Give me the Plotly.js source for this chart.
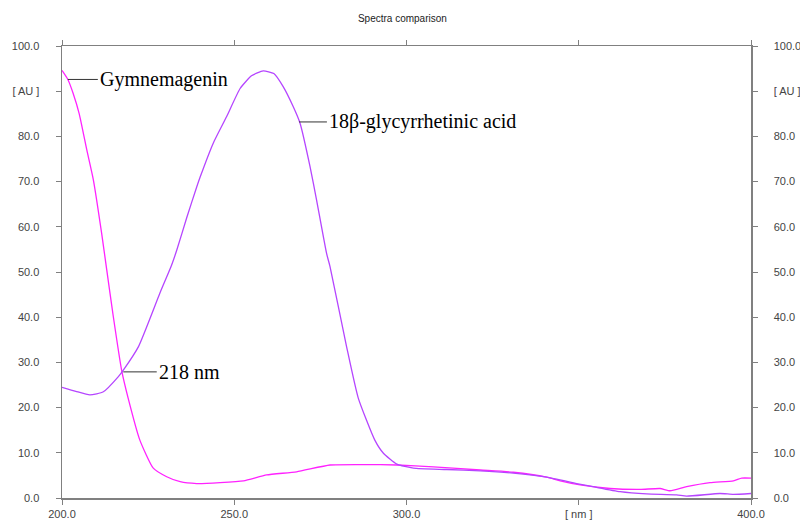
<!DOCTYPE html>
<html>
<head>
<meta charset="utf-8">
<script src="https://cdn.plot.ly/plotly-3.0.1.min.js"></script>
<style>html,body{margin:0;padding:0;background:#fff;}#chart{width:800px;height:521px;}</style>
</head>
<body>
<div id="chart"></div>
<script>
// Gymnemagenin spectrum (nm, AU)
const gymX = [200, 201.7, 203.2, 205, 207.2, 209.1, 211.5, 213.0, 214.9, 217.3, 219.2, 222.6, 226.5, 230.4, 234.3, 239.1, 245.9, 252.7, 259.4, 268.1, 277.8, 287.5, 297.2, 307.8, 321.4, 331.0, 340.7, 344.6, 350.4, 359.1, 367.8, 373.6, 376.5, 381.3, 388.1, 394.9, 397.3, 400];
const gymY = [94.6, 92.6, 89.6, 85.0, 77.0, 70.4, 58.6, 50.4, 40.1, 28.3, 22.1, 12.8, 6.6, 4.7, 3.6, 3.2, 3.4, 3.8, 5.1, 5.8, 7.3, 7.4, 7.3, 6.9, 6.2, 5.7, 4.6, 3.8, 2.9, 2.1, 1.9, 2.1, 1.6, 2.5, 3.4, 3.8, 4.4, 4.4];
// 18β-glycyrrhetinic acid spectrum (nm, AU)
const glyX = [200, 204, 208.1, 212, 216.3, 217.8, 222.2, 228.4, 231.8, 233.3, 236.2, 239.1, 240.1, 243.9, 247.8, 251.7, 255, 258.4, 261.5, 264.2, 267.1, 269.1, 272.0, 273.9, 276.8, 277.8, 282.6, 286.0, 290.8, 293.3, 297.2, 302.0, 311.7, 321.4, 331.0, 340.7, 349.4, 354.2, 362.0, 369.7, 378.4, 381.3, 391.0, 394.9, 400];
const glyY = [24.5, 23.6, 22.8, 23.5, 26.8, 28.3, 33.5, 45.3, 51.5, 54.8, 62.0, 68.8, 71.0, 78.5, 84.4, 90.6, 93.4, 94.5, 93.9, 91.0, 86.6, 82.9, 73.3, 65.9, 54.1, 51.2, 33.5, 22.1, 12.8, 9.9, 7.5, 6.6, 6.3, 6.0, 5.5, 4.6, 3.2, 2.5, 1.4, 0.9, 0.7, 0.4, 1.0, 0.8, 1.0];

const xTickVals = [200, 250, 300, 350, 400];
const xTickText = ['200.0', '250.0', '300.0', '[ nm ]', '400.0'];
const yTickVals = [0, 10, 20, 30, 40, 50, 60, 70, 80, 90, 100];
const yTickText = ['0.0', '10.0', '20.0', '30.0', '40.0', '50.0', '60.0', '70.0', '80.0', '[ AU ]', '100.0'];

// label callouts: [pointX, pointY, lineEndX, textX, text]
const labels = [
  [201.7, 92.6, 210.4, 210.7, 'Gymnemagenin'],
  [268.8, 83.2, 276.9, 277.2, '18β-glycyrrhetinic acid'],
  [217.8, 27.9, 227.5, 227.8, '218 nm']
];

const axisColor = '#808080';
const tickFont = {family: 'Liberation Sans, Arial, sans-serif', size: 11, color: '#444'};

const traces = [
  {x: gymX, y: gymY, type: 'scatter', mode: 'lines', name: 'Gymnemagenin',
   line: {color: '#ff22ff', width: 1.3, shape: 'spline', smoothing: 0.5}, xaxis: 'x', yaxis: 'y'},
  {x: glyX, y: glyY, type: 'scatter', mode: 'lines', name: '18β-glycyrrhetinic acid',
   line: {color: '#b545ff', width: 1.3, shape: 'spline', smoothing: 0.5}, xaxis: 'x', yaxis: 'y2'}
];

const shapes = labels.map(l => ({type: 'line', xref: 'x', yref: 'y', x0: l[0], y0: l[1], x1: l[2], y1: l[1],
  line: {color: '#333', width: 1}}));
const annotations = labels.map(l => ({xref: 'x', yref: 'y', x: l[3], y: l[1], text: l[4], showarrow: false,
  xanchor: 'left', yanchor: 'middle', borderpad: 0,
  font: {family: 'Liberation Serif, Times New Roman, serif', size: 20, color: '#000'}}));

const layout = {
  width: 800, height: 521,
  margin: {l: 62, r: 49, t: 46, b: 23, pad: 0},
  paper_bgcolor: '#fff', plot_bgcolor: '#fff',
  showlegend: false,
  title: {text: 'Spectra comparison', x: 0.503, xanchor: 'center', y: 0.965, yanchor: 'middle',
          font: {family: 'Liberation Sans, Arial, sans-serif', size: 10, color: '#222'}},
  xaxis: {range: [200, 400], tickvals: xTickVals, ticktext: xTickText, ticks: 'outside', ticklen: 5,
          tickcolor: axisColor, tickwidth: 1, showline: true, linecolor: axisColor, linewidth: 1.5,
          mirror: 'ticks', showgrid: false, zeroline: false, tickfont: tickFont, ticklabelstandoff: 0},
  yaxis: {range: [0, 100], tickvals: yTickVals, ticktext: yTickText, ticks: 'outside', ticklen: 5,
          tickcolor: axisColor, tickwidth: 1, showline: true, linecolor: axisColor, linewidth: 1.5,
          showgrid: false, zeroline: false, tickfont: tickFont, ticklabelstandoff: 14},
  yaxis2: {range: [0, 100], overlaying: 'y', side: 'right', tickvals: yTickVals, ticktext: yTickText,
           ticks: 'outside', ticklen: 5, tickcolor: axisColor, tickwidth: 1, showline: true,
           linecolor: axisColor, linewidth: 1.5, showgrid: false, zeroline: false, tickfont: tickFont,
           ticklabelstandoff: 14},
  shapes: shapes,
  annotations: annotations
};

Plotly.newPlot('chart', traces, layout, {displayModeBar: false, staticPlot: true});
</script>
</body>
</html>
